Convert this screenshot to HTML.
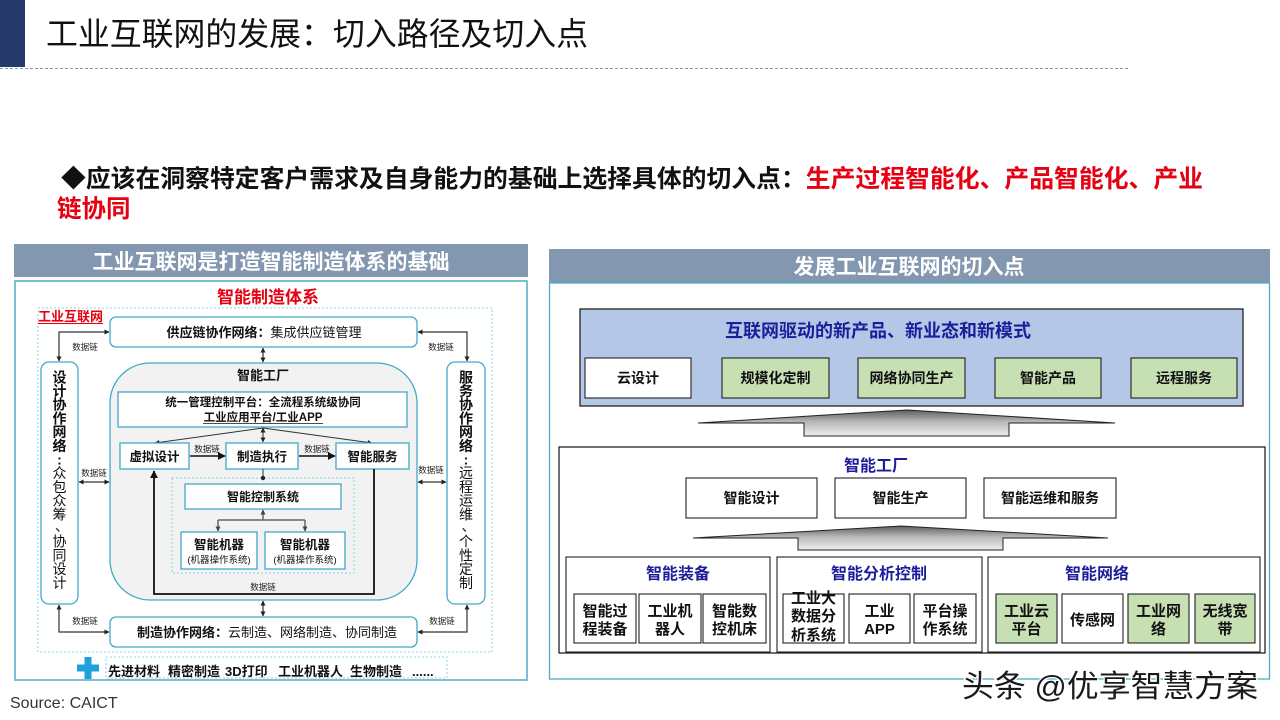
<!DOCTYPE html>
<html><head><meta charset="utf-8"><style>
html,body{margin:0;padding:0;background:#fff;width:1280px;height:720px;overflow:hidden}
svg{display:block}
text{font-family:"Liberation Sans","Noto Sans CJK SC",sans-serif}
</style></head><body>
<svg width="1280" height="720" viewBox="0 0 1280 720" xmlns="http://www.w3.org/2000/svg">
<defs>
<marker id="a" viewBox="0 0 10 10" refX="9" refY="5" markerWidth="5" markerHeight="5" markerUnits="userSpaceOnUse" orient="auto-start-reverse"><path d="M0,0L10,5L0,10z" fill="#222"/></marker>
<marker id="b" viewBox="0 0 10 10" refX="9" refY="5" markerWidth="8" markerHeight="8" markerUnits="userSpaceOnUse" orient="auto-start-reverse"><path d="M0,0L10,5L0,10z" fill="#111"/></marker>
<marker id="g" viewBox="0 0 10 10" refX="9" refY="5" markerWidth="5" markerHeight="5" markerUnits="userSpaceOnUse" orient="auto-start-reverse"><path d="M0,0L10,5L0,10z" fill="#444"/></marker>
<linearGradient id="ag" x1="0" y1="0" x2="0" y2="1">
<stop offset="0" stop-color="#5e5e5e"/><stop offset="0.45" stop-color="#b8b8b8"/><stop offset="1" stop-color="#eeeeee"/>
</linearGradient>
</defs>

<!-- header -->
<rect x="0" y="0" width="25" height="67" fill="#253a68"/>
<text x="46" y="45" font-size="32" fill="#111" textLength="542" lengthAdjust="spacingAndGlyphs">工业互联网的发展：切入路径及切入点</text>
<line x1="0" y1="68.5" x2="1128" y2="68.5" stroke="#7d9dbb" stroke-width="1" stroke-dasharray="3,2"/>

<!-- bullet -->
<text x="61" y="187" font-size="24.5" font-weight="bold" textLength="1142" lengthAdjust="spacingAndGlyphs"><tspan fill="#111">◆应该在洞察特定客户需求及自身能力的基础上选择具体的切入点：</tspan><tspan fill="#e60012">生产过程智能化、产品智能化、产业</tspan></text>
<text x="57" y="217" font-size="24.5" font-weight="bold" fill="#e60012">链协同</text>

<!-- ============ LEFT PANEL ============ -->
<rect x="14" y="244" width="514" height="33" fill="#8497b0"/>
<text x="271" y="269" font-size="21" font-weight="bold" fill="#fff" text-anchor="middle">工业互联网是打造智能制造体系的基础</text>
<rect x="15" y="281" width="512" height="399" fill="#fff" stroke="#4bacc6" stroke-width="1.5"/>
<text x="268" y="303" font-size="17" font-weight="bold" fill="#e60012" text-anchor="middle">智能制造体系</text>
<rect x="38" y="308" width="454" height="344" fill="none" stroke="#8fd0e0" stroke-width="1" stroke-dasharray="2,2"/>
<text x="38" y="321" font-size="13" font-weight="bold" fill="#e60012">工业互联网</text>
<line x1="38" y1="323.5" x2="103" y2="323.5" stroke="#e60012" stroke-width="1"/>

<!-- supply chain -->
<rect x="110" y="317" width="307" height="30" rx="6" fill="#fff" stroke="#41a9c9" stroke-width="1.3"/>
<text x="264" y="337" font-size="13" text-anchor="middle" fill="#111"><tspan font-weight="bold">供应链协作网络：</tspan><tspan>集成供应链管理</tspan></text>

<!-- side boxes -->
<rect x="41" y="362" width="37" height="242" rx="8" fill="#fff" stroke="#41a9c9" stroke-width="1.3"/>
<rect x="447" y="362" width="38" height="242" rx="8" fill="#fff" stroke="#41a9c9" stroke-width="1.3"/>
<g font-size="14" text-anchor="middle" fill="#111">
<g font-weight="bold">
<text x="59.5" y="382.3">设</text><text x="59.5" y="396">计</text><text x="59.5" y="409.7">协</text><text x="59.5" y="423.4">作</text><text x="59.5" y="437.1">网</text><text x="59.5" y="450.8">络</text><text x="59.5" y="464.5">:</text>
<text x="466" y="382.3">服</text><text x="466" y="396">务</text><text x="466" y="409.7">协</text><text x="466" y="423.4">作</text><text x="466" y="437.1">网</text><text x="466" y="450.8">络</text><text x="466" y="464.5">:</text>
</g>
<text x="59.5" y="478.2">众</text><text x="59.5" y="491.9">包</text><text x="59.5" y="505.6">众</text><text x="59.5" y="519.3">筹</text><text x="62" y="531">、</text><text x="59.5" y="546.7">协</text><text x="59.5" y="560.4">同</text><text x="59.5" y="574.1">设</text><text x="59.5" y="587.8">计</text>
<text x="466" y="478.2">远</text><text x="466" y="491.9">程</text><text x="466" y="505.6">运</text><text x="466" y="519.3">维</text><text x="468.5" y="531">、</text><text x="466" y="546.7">个</text><text x="466" y="560.4">性</text><text x="466" y="574.1">定</text><text x="466" y="587.8">制</text>
</g>

<!-- top connectors -->
<g fill="none" stroke="#333" stroke-width="1.2">
<polyline points="109,332 59,332 59,361" marker-start="url(#a)" marker-end="url(#a)"/>
<polyline points="418,332 467,332 467,361" marker-start="url(#a)" marker-end="url(#a)"/>
<line x1="263" y1="348" x2="263" y2="362" marker-start="url(#a)" marker-end="url(#a)"/>
<polyline points="109,632 59,632 59,605" marker-start="url(#a)" marker-end="url(#a)"/>
<polyline points="418,632 467,632 467,605" marker-start="url(#a)" marker-end="url(#a)"/>
<line x1="263" y1="601" x2="263" y2="616" marker-start="url(#a)" marker-end="url(#a)"/>
<line x1="79" y1="482" x2="109" y2="482" marker-start="url(#a)" marker-end="url(#a)"/>
<line x1="418" y1="482" x2="446" y2="482" marker-start="url(#a)" marker-end="url(#a)"/>
</g>
<g font-size="8.5" fill="#222" text-anchor="middle">
<text x="85" y="350">数据链</text>
<text x="441" y="350">数据链</text>
<text x="94" y="476">数据链</text>
<text x="431" y="473">数据链</text>
<text x="85" y="624">数据链</text>
<text x="442" y="624">数据链</text>
</g>

<!-- factory -->
<rect x="110" y="363" width="307" height="237" rx="40" fill="#f2f2f2" stroke="#41a9c9" stroke-width="1.3"/>
<text x="263" y="380" font-size="13" font-weight="bold" text-anchor="middle" fill="#111">智能工厂</text>
<rect x="118" y="392" width="289" height="35" fill="#fff" stroke="#41a9c9" stroke-width="1.3"/>
<text x="263" y="406" font-size="11.5" font-weight="bold" text-anchor="middle" fill="#111">统一管理控制平台：全流程系统级协同</text>
<text x="263" y="421" font-size="11.5" font-weight="bold" text-anchor="middle" fill="#111">工业应用平台/工业APP</text>
<line x1="203" y1="423.5" x2="323" y2="423.5" stroke="#111" stroke-width="0.8"/>

<g fill="none" stroke="#333" stroke-width="1">
<line x1="263" y1="428" x2="155" y2="443" marker-end="url(#a)"/>
<line x1="263" y1="428" x2="372" y2="443" marker-end="url(#a)"/>
<line x1="263" y1="428" x2="263" y2="442" marker-start="url(#a)" marker-end="url(#a)"/>
</g>

<rect x="120" y="443" width="69" height="26" fill="#fff" stroke="#41a9c9" stroke-width="1.3"/>
<rect x="226" y="443" width="72" height="26" fill="#fff" stroke="#41a9c9" stroke-width="1.3"/>
<rect x="336" y="443" width="73" height="26" fill="#fff" stroke="#41a9c9" stroke-width="1.3"/>
<g font-size="12.5" font-weight="bold" text-anchor="middle" fill="#111">
<text x="154.5" y="461">虚拟设计</text>
<text x="262" y="461">制造执行</text>
<text x="372.5" y="461">智能服务</text>
</g>
<g fill="none" stroke="#111" stroke-width="1.5">
<line x1="190" y1="456" x2="225" y2="456" marker-end="url(#b)"/>
<line x1="299" y1="456" x2="335" y2="456" marker-end="url(#b)"/>
</g>
<g font-size="8.5" fill="#222" text-anchor="middle">
<text x="207" y="452">数据链</text>
<text x="317" y="452">数据链</text>
<text x="263" y="590">数据链</text>
</g>

<!-- feedback black loop -->
<polyline points="374,469 374,594 154,594 154,471" fill="none" stroke="#111" stroke-width="1.8" marker-end="url(#b)"/>

<!-- inner dashed -->
<rect x="172" y="478" width="182" height="95" fill="none" stroke="#8fd0e0" stroke-width="1" stroke-dasharray="2,2"/>
<line x1="263" y1="469" x2="263" y2="478" stroke="#333" stroke-width="1"/>
<circle cx="263" cy="478" r="2.2" fill="#222"/>
<rect x="185" y="484" width="156" height="25" fill="#fff" stroke="#41a9c9" stroke-width="1.3"/>
<text x="263" y="501" font-size="12" font-weight="bold" text-anchor="middle" fill="#111">智能控制系统</text>
<g fill="none" stroke="#666" stroke-width="1.5">
<line x1="263" y1="520" x2="263" y2="510" marker-end="url(#g)"/>
<line x1="218" y1="520" x2="305" y2="520"/>
<line x1="218" y1="520" x2="218" y2="531" marker-end="url(#g)"/>
<line x1="305" y1="520" x2="305" y2="531" marker-end="url(#g)"/>
</g>
<rect x="181" y="532" width="76" height="37" fill="#fff" stroke="#41a9c9" stroke-width="1.3"/>
<rect x="265" y="532" width="80" height="37" fill="#fff" stroke="#41a9c9" stroke-width="1.3"/>
<g text-anchor="middle" fill="#111">
<text x="219" y="549" font-size="12.5" font-weight="bold">智能机器</text>
<text x="219" y="563" font-size="9.5">(机器操作系统)</text>
<text x="305" y="549" font-size="12.5" font-weight="bold">智能机器</text>
<text x="305" y="563" font-size="9.5">(机器操作系统)</text>
</g>

<!-- manufacturing -->
<rect x="110" y="617" width="307" height="30" rx="6" fill="#fff" stroke="#41a9c9" stroke-width="1.3"/>
<text x="267" y="637" font-size="13" text-anchor="middle" fill="#111"><tspan font-weight="bold">制造协作网络：</tspan><tspan>云制造、网络制造、协同制造</tspan></text>

<!-- bottom row -->
<rect x="106" y="657" width="341" height="21" fill="none" stroke="#8fd0e0" stroke-width="1" stroke-dasharray="2,2"/>
<rect x="77" y="664.5" width="22" height="7" fill="#1ea0dc"/>
<rect x="84.5" y="657" width="7" height="22" fill="#1ea0dc"/>
<g font-size="13" font-weight="bold" fill="#111">
<text x="108" y="676">先进材料</text>
<text x="168" y="676">精密制造</text>
<text x="225" y="676">3D打印</text>
<text x="278" y="676">工业机器人</text>
<text x="350" y="676">生物制造</text>
<text x="412" y="676">......</text>
</g>

<text x="10" y="708" font-size="16" fill="#333">Source: CAICT</text>

<!-- ============ RIGHT PANEL ============ -->
<rect x="549" y="249" width="721" height="34" fill="#8497b0"/>
<text x="909" y="274" font-size="21" font-weight="bold" fill="#fff" text-anchor="middle">发展工业互联网的切入点</text>
<rect x="549.5" y="283" width="720" height="396" fill="#fff" stroke="#4bacc6" stroke-width="1.3"/>

<rect x="580" y="309" width="663" height="97" fill="#b4c7e7" stroke="#222" stroke-width="1.3"/>
<text x="878" y="337" font-size="18" font-weight="bold" fill="#1d1d9b" text-anchor="middle">互联网驱动的新产品、新业态和新模式</text>
<g stroke="#222" stroke-width="1.1">
<rect x="585" y="358" width="106" height="40" fill="#fff"/>
<rect x="722" y="358" width="107" height="40" fill="#c6e0b4"/>
<rect x="858" y="358" width="107" height="40" fill="#c6e0b4"/>
<rect x="995" y="358" width="106" height="40" fill="#c6e0b4"/>
<rect x="1131" y="358" width="106" height="40" fill="#c6e0b4"/>
</g>
<g font-size="14" font-weight="bold" fill="#111" text-anchor="middle">
<text x="638" y="383">云设计</text>
<text x="775.5" y="383">规模化定制</text>
<text x="911.5" y="383">网络协同生产</text>
<text x="1048" y="383">智能产品</text>
<text x="1184" y="383">远程服务</text>
</g>

<polygon points="698,423 907,410 1115,423 1009,423 1009,436 804,436 804,423" fill="url(#ag)" stroke="#222" stroke-width="1"/>

<rect x="559" y="447" width="706" height="206" fill="#fff" stroke="#222" stroke-width="1.3"/>
<text x="876" y="471" font-size="16" font-weight="bold" fill="#1d1d9b" text-anchor="middle">智能工厂</text>
<g stroke="#222" stroke-width="1.1" fill="#fff">
<rect x="686" y="478" width="131" height="40"/>
<rect x="835" y="478" width="131" height="40"/>
<rect x="984" y="478" width="132" height="40"/>
</g>
<g font-size="14" font-weight="bold" fill="#111" text-anchor="middle">
<text x="751.5" y="503">智能设计</text>
<text x="900.5" y="503">智能生产</text>
<text x="1050" y="503">智能运维和服务</text>
</g>

<polygon points="693,538 901,526 1108,538 1003,538 1003,550 798,550 798,538" fill="url(#ag)" stroke="#222" stroke-width="1"/>

<g stroke="#222" stroke-width="1.1" fill="#fff">
<rect x="566" y="557" width="204" height="95"/>
<rect x="777" y="557" width="205" height="95"/>
<rect x="988" y="557" width="272" height="95"/>
</g>
<g font-size="16" font-weight="bold" fill="#1d1d9b" text-anchor="middle">
<text x="678" y="579">智能装备</text>
<text x="879" y="579">智能分析控制</text>
<text x="1097" y="579">智能网络</text>
</g>
<g stroke="#222" stroke-width="1.1">
<rect x="574" y="594" width="62" height="49" fill="#fff"/>
<rect x="639" y="594" width="62" height="49" fill="#fff"/>
<rect x="703" y="594" width="63" height="49" fill="#fff"/>
<rect x="783" y="594" width="61" height="49" fill="#fff"/>
<rect x="849" y="594" width="61" height="49" fill="#fff"/>
<rect x="914" y="594" width="62" height="49" fill="#fff"/>
<rect x="996" y="594" width="61" height="49" fill="#c6e0b4"/>
<rect x="1062" y="594" width="61" height="49" fill="#fff"/>
<rect x="1128" y="594" width="61" height="49" fill="#c6e0b4"/>
<rect x="1195" y="594" width="60" height="49" fill="#c6e0b4"/>
</g>
<g font-size="15" font-weight="bold" fill="#111" text-anchor="middle">
<text x="605" y="616">智能过</text><text x="605" y="634">程装备</text>
<text x="670" y="616">工业机</text><text x="670" y="634">器人</text>
<text x="734.5" y="616">智能数</text><text x="734.5" y="634">控机床</text>
<text x="813.5" y="603">工业大</text><text x="813.5" y="621">数据分</text><text x="813.5" y="640">析系统</text>
<text x="879.5" y="616">工业</text><text x="879.5" y="634">APP</text>
<text x="945" y="616">平台操</text><text x="945" y="634">作系统</text>
<text x="1026.5" y="616">工业云</text><text x="1026.5" y="634">平台</text>
<text x="1092.5" y="625">传感网</text>
<text x="1158.5" y="616">工业网</text><text x="1158.5" y="634">络</text>
<text x="1225" y="616">无线宽</text><text x="1225" y="634">带</text>
</g>

<!-- watermark -->
<text x="962" y="697" font-size="31" fill="#1a1a1a" stroke="#fff" stroke-width="2.5" paint-order="stroke" textLength="296" lengthAdjust="spacingAndGlyphs">头条 @优享智慧方案</text>
</svg>
</body></html>
